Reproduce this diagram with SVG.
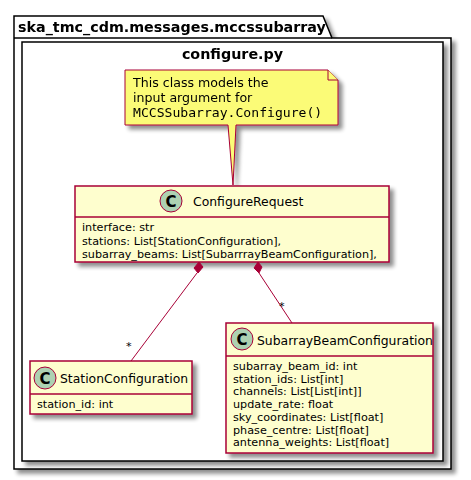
<svg xmlns="http://www.w3.org/2000/svg" width="471" height="480" viewBox="0 0 471 480">
<defs>
<filter id="sh" x="-10%" y="-10%" width="130%" height="130%">
<feGaussianBlur in="SourceAlpha" stdDeviation="2"/>
<feOffset dx="4" dy="4" result="b"/>
<feComponentTransfer><feFuncA type="linear" slope="0.45"/></feComponentTransfer>
<feMerge><feMergeNode/><feMergeNode in="SourceGraphic"/></feMerge>
</filter>
<style>
.pkg{fill:#FFFFFF;stroke:#000000;stroke-width:1.5}
.cls{fill:#FEFECE;stroke:#A80036;stroke-width:1.5}
.sep{stroke:#A80036;stroke-width:1.5}
.circ{fill:#ADD1B2;stroke:#A80036;stroke-width:1}
.cl{font-family:"DejaVu Sans",sans-serif;font-weight:bold;font-size:15px;fill:#000}
.name{font-family:"DejaVu Sans",sans-serif;font-size:12.4px;fill:#000}
.attr{font-family:"DejaVu Sans",sans-serif;font-size:11.2px;fill:#000}
.ptitle{font-family:"DejaVu Sans",sans-serif;font-weight:bold;font-size:14.3px;fill:#000}
.note{fill:#FBFB77;stroke:#A80036;stroke-width:1}
.ntext{font-family:"DejaVu Sans",sans-serif;font-size:12.6px;fill:#000}
.mono{font-family:"DejaVu Sans Mono",monospace;font-size:13.1px;fill:#000}
.edge{stroke:#A80036;stroke-width:1;fill:none}
.dia{fill:#A80036;stroke:#A80036;stroke-width:1}
</style>
</defs>
<g id="pkg-outer" filter="url(#sh)">
<path class="pkg" d="M14,38 L14,16 L323,16 L332,38 L451,38 L451,469 L14,469 Z"/>
<line x1="14" y1="38" x2="332" y2="38" stroke="#000" stroke-width="1.5"/>
<text class="ptitle" x="18" y="32">ska_tmc_cdm.messages.mccssubarray</text>
</g>
<g id="pkg-inner" filter="url(#sh)">
<rect class="pkg" x="22" y="42" width="421" height="419"/>
<text class="ptitle" x="232.5" y="59" text-anchor="middle">configure.py</text>
</g>
<g id="note" filter="url(#sh)">
<path class="note" d="M125,70 L328,70 L338,80 L338,125 L236,125 L233,185 L228,125 L125,125 Z"/>
<path class="note" d="M328,70 L328,80 L338,80"/>
<text class="ntext" x="133" y="87">This class models the</text>
<text class="ntext" x="133" y="102">input argument for</text>
<text class="mono" x="133" y="117">MCCSSubarray.Configure()</text>
</g>
<g id="ConfigureRequest">
<rect class="cls" x="75" y="186" width="314" height="76" filter="url(#sh)"/>
<line class="sep" x1="75" y1="217" x2="389" y2="217"/>
<circle class="circ" cx="171" cy="201" r="11"/>
<text class="cl" x="171" y="206.5" text-anchor="middle">C</text>
<text class="name" x="193" y="206">ConfigureRequest</text>
<text class="attr" x="82" y="231">interface: str</text>
<text class="attr" x="82" y="244.5">stations: List[StationConfiguration],</text>
<text class="attr" x="82" y="258">subarray_beams: List[SubarrrayBeamConfiguration],</text>
</g>
<g id="StationConfiguration">
<rect class="cls" x="30" y="361" width="162" height="53" filter="url(#sh)"/>
<line class="sep" x1="30" y1="394" x2="192" y2="394"/>
<circle class="circ" cx="45" cy="378" r="11"/>
<text class="cl" x="45" y="383.5" text-anchor="middle">C</text>
<text class="name" x="60" y="383">StationConfiguration</text>
<text class="attr" x="37" y="408">station_id: int</text>
</g>
<g id="SubarrayBeamConfiguration">
<rect class="cls" x="226" y="323" width="207" height="130" filter="url(#sh)"/>
<line class="sep" x1="226" y1="356" x2="433" y2="356"/>
<circle class="circ" cx="242" cy="339" r="11"/>
<text class="cl" x="242" y="344.5" text-anchor="middle">C</text>
<text class="name" x="257" y="345">SubarrayBeamConfiguration</text>
<text class="attr" x="233" y="370">subarray_beam_id: int</text>
<text class="attr" x="233" y="382.7">station_ids: List[int]</text>
<text class="attr" x="233" y="395.4">channels: List[List[int]]</text>
<text class="attr" x="233" y="408.1">update_rate: float</text>
<text class="attr" x="233" y="420.8">sky_coordinates: List[float]</text>
<text class="attr" x="233" y="433.5">phase_centre: List[float]</text>
<text class="attr" x="233" y="446.2">antenna_weights: List[float]</text>
</g>
<g id="connectors">
<path class="edge" d="M197,273 L131,361"/>
<path class="dia" d="M199,262 L203,267 L198,273 L194,268 Z"/>
<text class="attr" x="126" y="350">*</text>
<path class="edge" d="M259,273 L292,323"/>
<path class="dia" d="M258,262 L262,267 L259,273 L254,268 Z"/>
<text class="attr" x="279" y="310">*</text>
</g>
</svg>
